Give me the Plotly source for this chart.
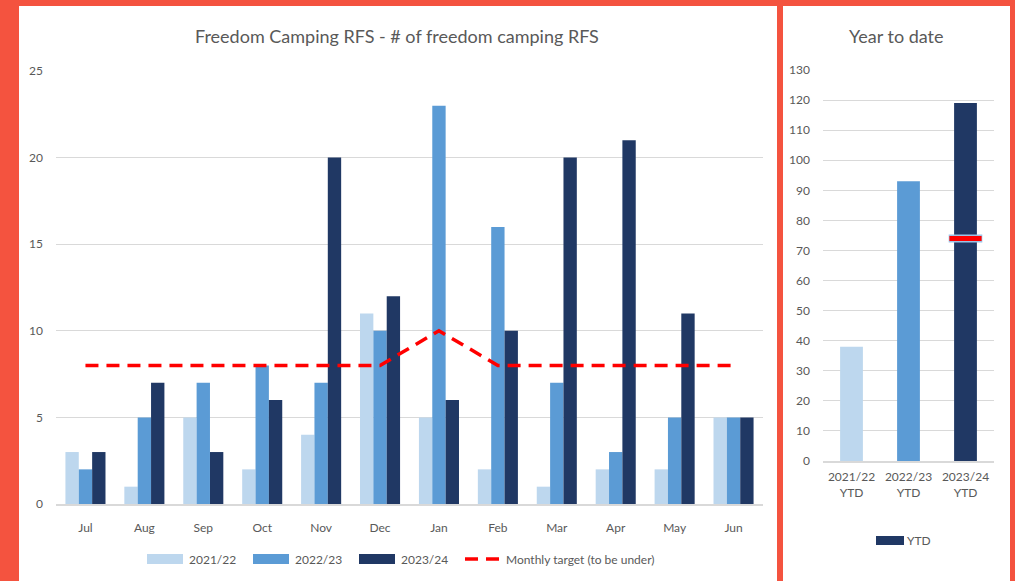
import plotly.graph_objects as go

W, H = 1015, 581

months = ["Jul", "Aug", "Sep", "Oct", "Nov", "Dec", "Jan", "Feb", "Mar", "Apr", "May", "Jun"]
s2122 = [3, 1, 5, 2, 4, 11, 5, 2, 1, 2, 2, 5]
s2223 = [2, 5, 7, 8, 7, 10, 23, 16, 7, 3, 5, 5]
s2324 = [3, 7, 3, 6, 20, 12, 6, 10, 20, 21, 11, 5]
target = [8, 8, 8, 8, 8, 8, 10, 8, 8, 8, 8, 8]

ytd_labels = ["2021/22<br>YTD", "2022/23<br>YTD", "2023/24<br>YTD"]
ytd_values = [38, 93, 119]
ytd_target = 74

c_light = "#BDD7EE"
c_mid = "#5B9BD5"
c_dark = "#203864"
txt = "#595959"
grid = "#D9D9D9"
bg_red = "#F4533F"
FONT = "Lato, 'Open Sans', sans-serif"

def px_x(x):
    return x / W

def px_y(y):
    return 1 - y / H

fig = go.Figure()

for name, vals, col in [("2021/22", s2122, c_light), ("2022/23", s2223, c_mid), ("2023/24", s2324, c_dark)]:
    fig.add_trace(go.Bar(x=months, y=vals, name=name, marker=dict(color=col, line=dict(width=0)),
                         xaxis="x", yaxis="y", showlegend=False))

fig.add_trace(go.Scatter(x=months, y=target, mode="lines", name="Monthly target (to be under)",
                         line=dict(color="#FF0000", width=3.5, dash="13px,8px"),
                         xaxis="x", yaxis="y", showlegend=False))

fig.add_trace(go.Bar(x=ytd_labels, y=ytd_values, name="YTD",
                     marker=dict(color=[c_light, c_mid, c_dark], line=dict(width=0)),
                     width=0.4, xaxis="x2", yaxis="y2", showlegend=False))

fig.add_trace(go.Scatter(x=[ytd_labels[2]], y=[ytd_target], mode="markers",
                         marker=dict(symbol="line-ew", size=24, line=dict(color="#9DC3E6", width=8)),
                         xaxis="x2", yaxis="y2", showlegend=False, hoverinfo="skip"))
fig.add_trace(go.Scatter(x=[ytd_labels[2]], y=[ytd_target], mode="markers",
                         marker=dict(symbol="line-ew", size=23, line=dict(color="#FF0000", width=5)),
                         xaxis="x2", yaxis="y2", showlegend=False, name="YTD target"))

shapes = [
    dict(type="rect", xref="paper", yref="paper", x0=px_x(19), x1=px_x(777), y0=0, y1=px_y(6),
         fillcolor="white", line=dict(width=0), layer="below"),
    dict(type="rect", xref="paper", yref="paper", x0=px_x(783), x1=px_x(1010), y0=0, y1=px_y(6),
         fillcolor="white", line=dict(width=0), layer="below"),
]

annotations = [
    dict(text="Freedom Camping RFS - # of freedom camping RFS", xref="paper", yref="paper",
         x=px_x(397), y=px_y(36), showarrow=False, font=dict(size=18, color=txt, family=FONT),
         xanchor="center", yanchor="middle"),
    dict(text="Year to date", xref="paper", yref="paper",
         x=px_x(896), y=px_y(36), showarrow=False, font=dict(size=18, color=txt, family=FONT),
         xanchor="center", yanchor="middle"),
]

# custom legend (left panel)
leg_y = 559
leg_items = [(147, 183, c_light, "2021/22", "bar"), (253, 289, c_mid, "2022/23", "bar"),
             (359, 395, c_dark, "2023/24", "bar"), (465, 500, "#FF0000", "Monthly target (to be under)", "line")]
for x0, x1, col, label, kind in leg_items:
    if kind == "bar":
        shapes.append(dict(type="rect", xref="paper", yref="paper", x0=px_x(x0), x1=px_x(x1),
                           y0=px_y(leg_y + 5), y1=px_y(leg_y - 5), fillcolor=col, line=dict(width=0)))
    else:
        shapes.append(dict(type="line", xref="paper", yref="paper", x0=px_x(x0), x1=px_x(x1 + 2),
                           y0=px_y(leg_y), y1=px_y(leg_y), line=dict(color=col, width=3.5, dash="13px,8px")))
    annotations.append(dict(text=label, xref="paper", yref="paper", x=px_x(x1 + 4), y=px_y(leg_y),
                            showarrow=False, xanchor="left", yanchor="middle",
                            font=dict(size=12, color=txt, family=FONT)))

# custom legend (right panel)
shapes.append(dict(type="rect", xref="paper", yref="paper", x0=px_x(876), x1=px_x(904),
                   y0=px_y(545), y1=px_y(536), fillcolor=c_dark, line=dict(width=0)))
annotations.append(dict(text="YTD", xref="paper", yref="paper", x=px_x(905), y=px_y(540),
                        showarrow=False, xanchor="left", yanchor="middle",
                        font=dict(size=12, color=txt, family=FONT)))

tickfont = dict(size=12, color=txt, family=FONT)

fig.update_layout(
    width=W, height=H,
    margin=dict(l=0, r=0, t=0, b=0, pad=0, autoexpand=False),
    paper_bgcolor=bg_red, plot_bgcolor="rgba(0,0,0,0)",
    barmode="group", bargap=0.32, bargroupgap=0,
    font=dict(family=FONT, color=txt),
    hovermode=False,
    xaxis=dict(domain=[px_x(56), px_x(763)], showgrid=False, anchor="y", zeroline=False, ticks="",
               tickfont=tickfont, showline=True, linecolor=grid, linewidth=1.5, ticklabelstandoff=12,
               automargin=False),
    yaxis=dict(domain=[px_y(504), px_y(71)], range=[0, 25], dtick=5, showgrid=True, gridcolor=grid,
               gridwidth=1, anchor="x", zeroline=False, showline=False, ticks="", tickfont=tickfont,
               ticklabelstandoff=12, automargin=False),
    xaxis2=dict(domain=[px_x(823), px_x(994)], showgrid=False, anchor="y2", zeroline=False, ticks="",
                tickfont=tickfont, showline=True, linecolor=grid, linewidth=1.5, ticklabelstandoff=4,
                automargin=False),
    yaxis2=dict(domain=[px_y(461), px_y(70)], range=[0, 130], dtick=10, showgrid=True, gridcolor=grid,
                gridwidth=1, anchor="x2", zeroline=False, showline=False, ticks="", tickfont=tickfont,
                ticklabelstandoff=12, automargin=False),
    shapes=shapes, annotations=annotations, showlegend=False,
)

fig.write_html("out.html", config={"displayModeBar": False},
               post_script="document.body.style.margin='0';document.body.style.padding='0';")
